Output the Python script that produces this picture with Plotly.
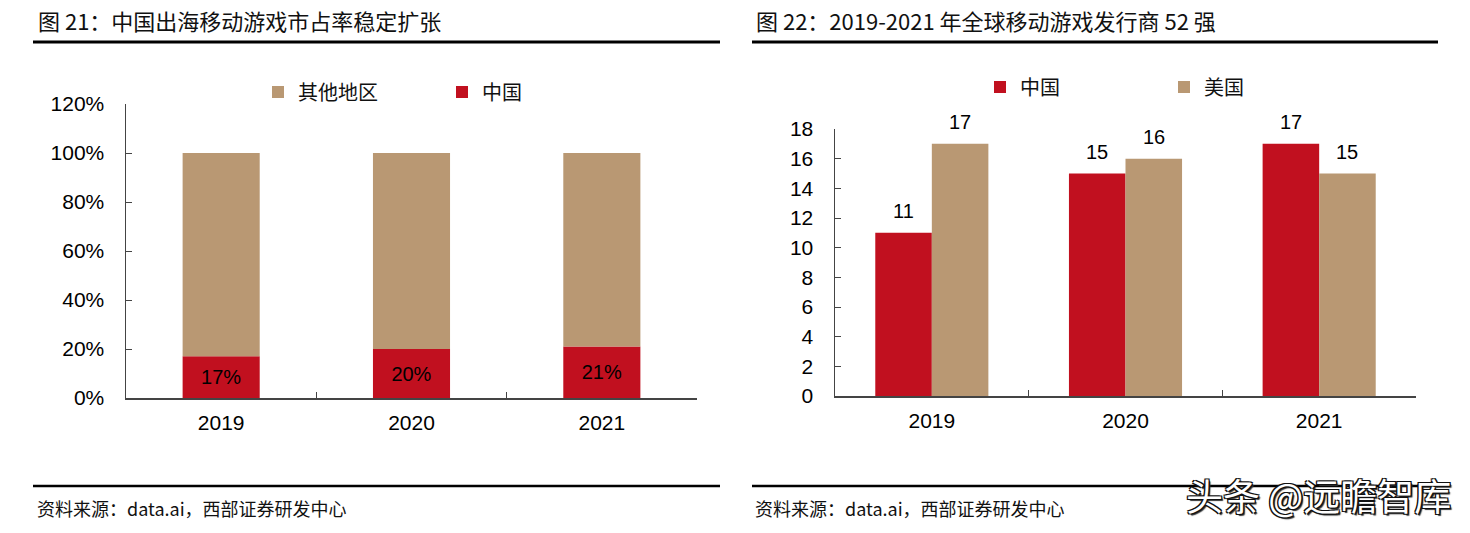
import plotly.graph_objects as go

# ---------------- data ----------------
years = ["2019", "2020", "2021"]
china_share = [0.17, 0.20, 0.21]
other_share = [0.83, 0.80, 0.79]
share_ticks = [0, 0.2, 0.4, 0.6, 0.8, 1.0, 1.2]

china_pub = [11, 15, 17]
us_pub = [17, 16, 15]
pub_ticks = [0, 2, 4, 6, 8, 10, 12, 14, 16, 18]

title_left = "图 21：中国出海移动游戏市占率稳定扩张"
title_right = "图 22：2019-2021 年全球移动游戏发行商 52 强"
source_text = "资料来源：data.ai，西部证券研发中心"
watermark = "头条 @远瞻智库"

# ---------------- style ----------------
W, H = 1470, 533
RED = "#C1101F"
TAN = "#B99873"
NUM_FONT = "Arial, Liberation Sans, sans-serif"
CJK_FONT = "Noto Sans CJK SC, sans-serif"
AX = "#444444"


def px_x(x):
    return x / W


def px_y(y):
    return (H - y) / H


fig = go.Figure()

# ---------- left chart: stacked share ----------
bw_left = 0.405
fig.add_trace(go.Bar(
    x=years, y=china_share, name="中国", xaxis="x", yaxis="y",
    marker=dict(color=RED, line=dict(width=0)),
    width=bw_left, offset=-bw_left / 2,
    texttemplate="%{y:.0%}", textposition="inside", insidetextanchor="middle",
    textfont=dict(family=NUM_FONT, size=20, color="#000000"),
    legend="legend", legendrank=2, hoverinfo="skip",
))
fig.add_trace(go.Bar(
    x=years, y=other_share, base=china_share, name="其他地区", xaxis="x", yaxis="y",
    marker=dict(color=TAN, line=dict(width=0)),
    width=bw_left, offset=-bw_left / 2,
    legend="legend", legendrank=1, hoverinfo="skip",
))

# ---------- right chart: grouped publishers ----------
bw_right = 0.292
fig.add_trace(go.Bar(
    x=years, y=china_pub, name="中国", xaxis="x2", yaxis="y2",
    marker=dict(color=RED, line=dict(width=0)),
    width=bw_right, offset=-bw_right,
    legend="legend2", legendrank=1, hoverinfo="skip",
))
fig.add_trace(go.Bar(
    x=years, y=us_pub, name="美国", xaxis="x2", yaxis="y2",
    marker=dict(color=TAN, line=dict(width=0)),
    width=bw_right, offset=0,
    legend="legend2", legendrank=2, hoverinfo="skip",
))

annotations = []
for i, v in enumerate(china_pub):
    annotations.append(dict(x=i - bw_right / 2, y=v, xref="x2", yref="y2", text=str(v),
                            showarrow=False, yanchor="bottom", yshift=9,
                            font=dict(family=NUM_FONT, size=20, color="#000")))
for i, v in enumerate(us_pub):
    annotations.append(dict(x=i + bw_right / 2, y=v, xref="x2", yref="y2", text=str(v),
                            showarrow=False, yanchor="bottom", yshift=9,
                            font=dict(family=NUM_FONT, size=20, color="#000")))

# titles
annotations.append(dict(x=px_x(36), y=px_y(20), xref="paper", yref="paper", text=title_left,
                        showarrow=False, xanchor="left", yanchor="middle",
                        font=dict(family=CJK_FONT, size=22, color="#111")))
annotations.append(dict(x=px_x(754), y=px_y(20), xref="paper", yref="paper", text=title_right,
                        showarrow=False, xanchor="left", yanchor="middle",
                        font=dict(family=CJK_FONT, size=22, color="#111")))
# sources
for sx in (35, 753):
    annotations.append(dict(x=px_x(sx), y=px_y(508), xref="paper", yref="paper", text=source_text,
                            showarrow=False, xanchor="left", yanchor="middle",
                            font=dict(family=CJK_FONT, size=18, color="#111")))
# watermark
annotations.append(dict(x=px_x(1453), y=px_y(495), xref="paper", yref="paper", text=watermark,
                        showarrow=False, xanchor="right", yanchor="middle",
                        font=dict(family=CJK_FONT, size=37, color="#ffffff",
                                  shadow="1.2px 1.2px 0 #111, -1.2px -1.2px 0 #111, 1.2px -1.2px 0 #111, -1.2px 1.2px 0 #111, 2px 2px 1px #333")))

shapes = []
for (x0, x1) in ((33, 720), (752, 1438)):
    shapes.append(dict(type="line", xref="paper", yref="paper", x0=px_x(x0), x1=px_x(x1),
                       y0=px_y(42), y1=px_y(42), line=dict(color="#000", width=3), layer="below"))
    shapes.append(dict(type="line", xref="paper", yref="paper", x0=px_x(x0), x1=px_x(x1),
                       y0=px_y(486), y1=px_y(486), line=dict(color="#000", width=2.5), layer="below"))

xcommon = dict(type="category", categoryorder="array", categoryarray=years, range=[-0.5, 2.5],
               showline=True, linecolor=AX, linewidth=1.5, ticks="inside", tickson="boundaries",
               ticklen=6, tickcolor=AX, showgrid=False, zeroline=False, fixedrange=True,
               automargin=False,
               tickfont=dict(family=NUM_FONT, size=21, color="#000"), ticklabelstandoff=5)
ycommon = dict(showline=True, linecolor=AX, linewidth=1.5, ticks="inside", ticklen=6,
               tickcolor=AX, showgrid=False, zeroline=False, fixedrange=True,
               automargin=False,
               tickfont=dict(family=NUM_FONT, size=21, color="#000"), ticklabelstandoff=16)

fig.update_layout(
    width=W, height=H, margin=dict(l=0, r=0, t=0, b=0, pad=0, autoexpand=False),
    paper_bgcolor="#ffffff", plot_bgcolor="#ffffff",
    barmode="overlay", showlegend=True,
    xaxis=dict(domain=[px_x(126), px_x(697)], anchor="y", **xcommon),
    yaxis=dict(domain=[px_y(398), px_y(104)], anchor="x", range=[0, 1.2],
               tickvals=share_ticks, tickformat=".0%", **ycommon),
    xaxis2=dict(domain=[px_x(835), px_x(1416)], anchor="y2", **xcommon),
    yaxis2=dict(domain=[px_y(396), px_y(129)], anchor="x2", range=[0, 18],
                tickvals=pub_ticks, **ycommon),
    legend=dict(orientation="h", x=px_x(258), y=px_y(92), xanchor="left", yanchor="middle",
                entrywidth=139, entrywidthmode="pixels", bgcolor="rgba(0,0,0,0)",
                font=dict(family=CJK_FONT, size=20, color="#111")),
    legend2=dict(orientation="h", x=px_x(980), y=px_y(87), xanchor="left", yanchor="middle",
                 entrywidth=139, entrywidthmode="pixels", bgcolor="rgba(0,0,0,0)",
                 font=dict(family=CJK_FONT, size=20, color="#111")),
    annotations=annotations, shapes=shapes,
)

fig.write_html("out.html", config={"displayModeBar": False, "staticPlot": True},
               post_script="document.body.style.margin='0';document.body.style.padding='0';")
